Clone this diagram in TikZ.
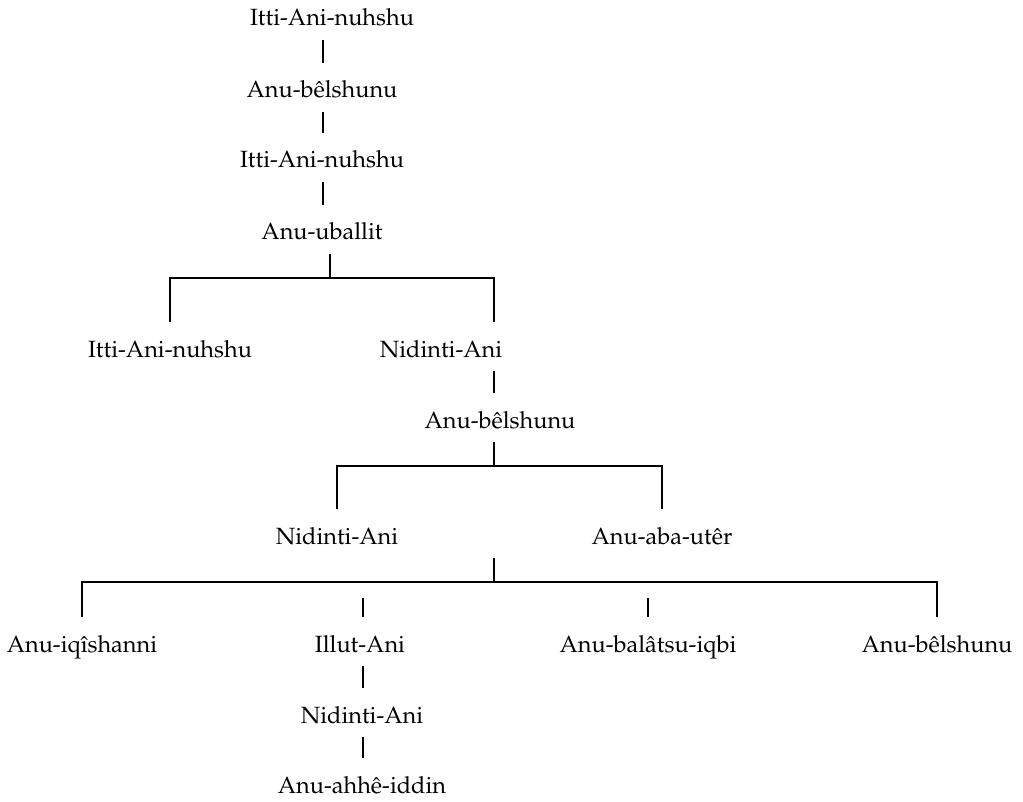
\documentclass[tikz,border=0pt]{standalone}
\usepackage[T1]{fontenc}
\usepackage{mathpazo}
\usetikzlibrary{positioning}

\begin{document}
\begin{tikzpicture}[x=1pt,y=-1pt,font=\fontsize{23.5}{27}\selectfont,line width=1.1pt,
    person/.style={anchor=base,inner sep=0pt,text height=34pt,text depth=13pt}]
        \useasboundingbox (0,0) rectangle (1023,802);
        \node[person] (a1) at (332,26) {Itti-Ani-nuhshu};
        \node[person] (a2) at (322,98) {Anu-b\^elshunu};
        \node[person] (a3) at (322,168) {Itti-Ani-nuhshu};
        \node[person] (a4) at (322,240) {Anu-uballit};
        \node[person] (b1) at (170,357) {Itti-Ani-nuhshu};
        \node[person] (b2) at (441,357) {Nidinti-Ani};
        \node[person] (c1) at (500,428) {Anu-b\^elshunu};
        \node[person] (d1) at (337,544) {Nidinti-Ani};
        \node[person] (d2) at (662,544) {Anu-aba-ut\^er};
        \node[person] (e1) at (82,652) {Anu-iq\^{\i}shanni};
        \node[person] (e2) at (360,652) {Illut-Ani};
        \node[person] (e3) at (648,652) {Anu-bal\^atsu-iqbi};
        \node[person] (e4) at (937,652) {Anu-b\^elshunu};
        \node[person] (f1) at (362,723) {Nidinti-Ani};
        \node[person] (g1) at (362,793) {Anu-ahh\^e-iddin};
        \coordinate (k1) at (323,0);
        \coordinate (k2) at (494,0);
        \coordinate (k3) at (363,0);
        \coordinate (j1) at (330,278);
        \coordinate (j2) at (494,466);
        \coordinate (j3) at (494,582);
        \coordinate (m1) at (363,598);
        \coordinate (m2) at (648,598);
        \draw (a1.south -| k1) -- (a2.north -| k1);
        \draw (a2.south -| k1) -- (a3.north -| k1);
        \draw (a3.south -| k1) -- (a4.north -| k1);
        \draw (a4.south -| j1) -- (j1);
        \draw (b1.north) |- (j1) -| (b2.north -| k2);
        \draw (b2.south -| k2) -- (c1.north -| k2);
        \draw (c1.south -| j2) -- (j2);
        \draw (d1.north) |- (j2) -| (d2.north);
        \draw (d2.south -| j3) -- (j3);
        \draw (e1.north) |- (j3) -| (e4.north);
        \draw (m1) -- (e2.north -| m1);
        \draw (m2) -- (e3.north);
        \draw (e2.south -| k3) -- (f1.north -| k3);
        \draw (f1.south -| k3) -- (g1.north -| k3);
      \end{tikzpicture}
\end{document}
